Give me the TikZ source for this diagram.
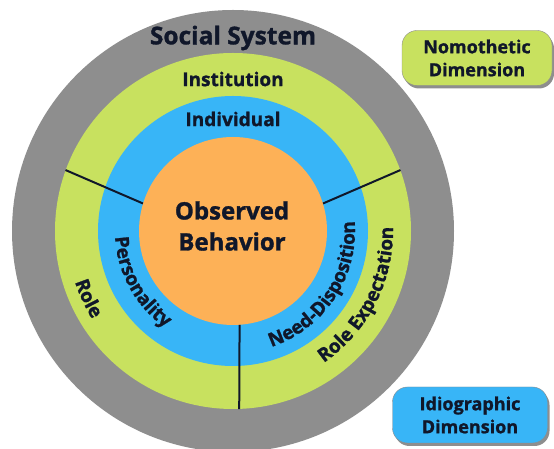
\documentclass[tikz,border=0pt]{standalone}
\usepackage{fontspec}
\setmainfont{Open Sans}[BoldFeatures={FakeBold=1.2}]
\usepackage{xcolor}
\usetikzlibrary{positioning, shadows, decorations.text}
\definecolor{ringgray}{HTML}{8E8E8E}
\definecolor{ringgreen}{HTML}{C8E15F}
\definecolor{ringblue}{HTML}{38B5F7}
\definecolor{coreorange}{HTML}{FDB157}
\definecolor{inkdark}{HTML}{10172A}
\newcommand{\ringfont}{\fontsize{19}{19}\selectfont\bfseries}
\tikzset{
  ring/.style={
    circle,
    inner sep=0pt,
    draw=none,
  },
  ringlabel/.style={
    text=inkdark,
    font=\ringfont,
  },
  dimbox/.style={
    rectangle,
    rounded corners=15pt,
    draw=black!45,
    thin,
    text centered,
    text=inkdark,
    minimum width=150pt,
    minimum height=55pt,
    font=\fontsize{18}{23}\selectfont\bfseries,
    align=center,
    drop shadow={shadow xshift=2pt, shadow yshift=-3pt, fill=ringgray, opacity=1},
  },
  divider/.style={
    draw=inkdark,
    line width=2pt
  },
  curvedlabel/.style={
    decorate,
    decoration={text along path, text align=center, text color=inkdark}
  }
}

\begin{document}
\begin{tikzpicture}[x=1pt, y=1pt]
  \useasboundingbox (0,0) rectangle (554,449);
  \fill[white] (0,0) rectangle (554,449);

  % Concentric rings
  \node [ring, fill=ringgray,   minimum size=442pt] (system)      at (233,218) {};
  \node [ring, fill=ringgreen,  minimum size=356pt] (institution) at (system.center) {};
  \node [ring, fill=ringblue,   minimum size=270pt] (individual)  at (system.center) {};
  \node [ring, fill=coreorange, minimum size=188pt] (core)        at (system.center) {};

  % Dividers between the sectors
  \draw [divider] (core.163) -- (institution.160);
  \draw [divider] (core.17)  -- (institution.20);
  \draw [divider] (core.-86) -- (institution.-88);

  % Straight labels
  \node [text=inkdark, font=\fontsize{24.5}{24.5}\selectfont\bfseries]
        (systemlbl) at (233,411) {Social System};
  \node [ringlabel] (instlbl) at (233,370) {Institution};
  \node [ringlabel] (indivlbl) at (233,330) {Individual};
  \node [text=inkdark, align=center, font=\fontsize{24}{31}\selectfont\bfseries]
        (corelbl) at (232,223) {Observed\\Behavior};

  % Curved labels
  \path [curvedlabel, decoration={text={|\ringfont|Personality}}]
        ([shift={(149:118pt)}]core.center) arc[start angle=149, end angle=269, radius=118pt];
  \path [curvedlabel, decoration={text={|\ringfont|Role}}]
        ([shift={(165:166pt)}]core.center) arc[start angle=165, end angle=245, radius=166pt];
  \path [curvedlabel, decoration={text={|\ringfont|Need-Disposition}}]
        ([shift={(-93:122pt)}]core.center) arc[start angle=-93, end angle=26, radius=122pt];
  \path [curvedlabel, decoration={text={|\ringfont|Role Expectation}}]
        ([shift={(-87:160pt)}]core.center) arc[start angle=-87, end angle=33, radius=160pt];

  % Dimension boxes
  \node [dimbox, fill=ringgreen] (nomo) at (477,391) {Nomothetic\\Dimension};
  \node [dimbox, fill=ringblue, minimum width=155pt, minimum height=56pt]
        (idio) at (470,34) {Idiographic\\Dimension};
\end{tikzpicture}
\end{document}
